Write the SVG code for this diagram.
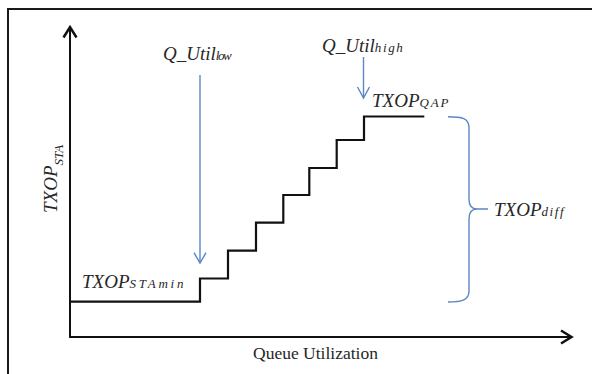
<svg xmlns="http://www.w3.org/2000/svg" width="592" height="374" viewBox="0 0 592 374">
  <defs>
    <style>
      .frame { fill: #ffffff; stroke: #1a1a1a; stroke-width: 2; }
      .axis { fill: none; stroke: #111111; stroke-width: 2; }
      .head { fill: none; stroke: #111111; stroke-width: 2.5; stroke-linejoin: miter; }
      .stairs { fill: none; stroke: #111111; stroke-width: 2.2; stroke-linejoin: miter; }
      .blue { fill: none; stroke: #5b87c4; stroke-width: 1.4; }
      .lbl { font-family: "Liberation Serif", "Times New Roman", serif; font-style: italic; font-size: 19px; fill: #262626; }
      .sub { font-size: 13px; }
      .plain { font-family: "Liberation Serif", "Times New Roman", serif; font-size: 17.5px; fill: #262626; }
    </style>
  </defs>

  <!-- outer frame -->
  <rect class="frame" x="8" y="9" width="600" height="380"/>

  <!-- axes -->
  <g id="axes">
    <path class="axis" d="M70,28 V337 H570"/>
    <polyline class="head" points="63.5,37.5 70,27 76.5,37.5"/>
    <polyline class="head" points="561,330.5 571.5,337 561,343.5"/>
  </g>

  <!-- TXOP vs. utilisation step curve -->
  <g id="curve">
    <path class="stairs" d="M70,301.7 H200 V278.5 H228 V250.7 H256 V222.7 H283.3 V195 H309.3 V168 H336.7 V140 H364 V116.5 H424.3"/>
  </g>

  <g id="connectors">
    <!-- Q_Util low marker -->
    <path class="blue" d="M200,75 V263"/>
    <polyline class="blue" points="194,252.7 200,263 206,252.7"/>
    <!-- Q_Util high marker -->
    <path class="blue" d="M363.5,57 V98"/>
    <polyline class="blue" points="357.5,87 363.5,98 369.5,87"/>
    <!-- brace spanning TXOP range -->
    <path class="blue" d="M448,116.7 C462,116.7 469,118 469,128 V199 C469,206 472,209 477,209 H488 M477,209 C472,209 469,212 469,219 V291 C469,300 462,302 448,302"/>
  </g>

  <!-- labels -->
  <g id="label-qlow">
    <text class="lbl" x="163" y="59.5">Q_Util<tspan class="sub" font-size="12" textLength="16" lengthAdjust="spacing">low</tspan></text>
  </g>
  <g id="label-qhigh">
    <text class="lbl" x="322" y="52">Q_Util<tspan class="sub" textLength="28" lengthAdjust="spacing">high</tspan></text>
  </g>
  <g id="label-qap">
    <text class="lbl" x="372" y="106.5">TXOP<tspan class="sub" textLength="29" lengthAdjust="spacing">QAP</tspan></text>
  </g>
  <g id="label-stamin">
    <text class="lbl" x="82" y="288">TXOP<tspan class="sub" textLength="54" lengthAdjust="spacing">STAmin</tspan></text>
  </g>
  <g id="label-diff">
    <text class="lbl" x="494" y="216">TXOP<tspan class="sub" textLength="22" lengthAdjust="spacing">diff</tspan></text>
  </g>
  <g id="label-yaxis">
    <text class="lbl" transform="translate(56.5,213) rotate(-90)">TXOP<tspan class="sub" dy="6" font-size="11">STA</tspan></text>
  </g>
  <g id="label-xaxis">
    <text class="plain" x="253" y="359">Queue Utilization</text>
  </g>
</svg>
